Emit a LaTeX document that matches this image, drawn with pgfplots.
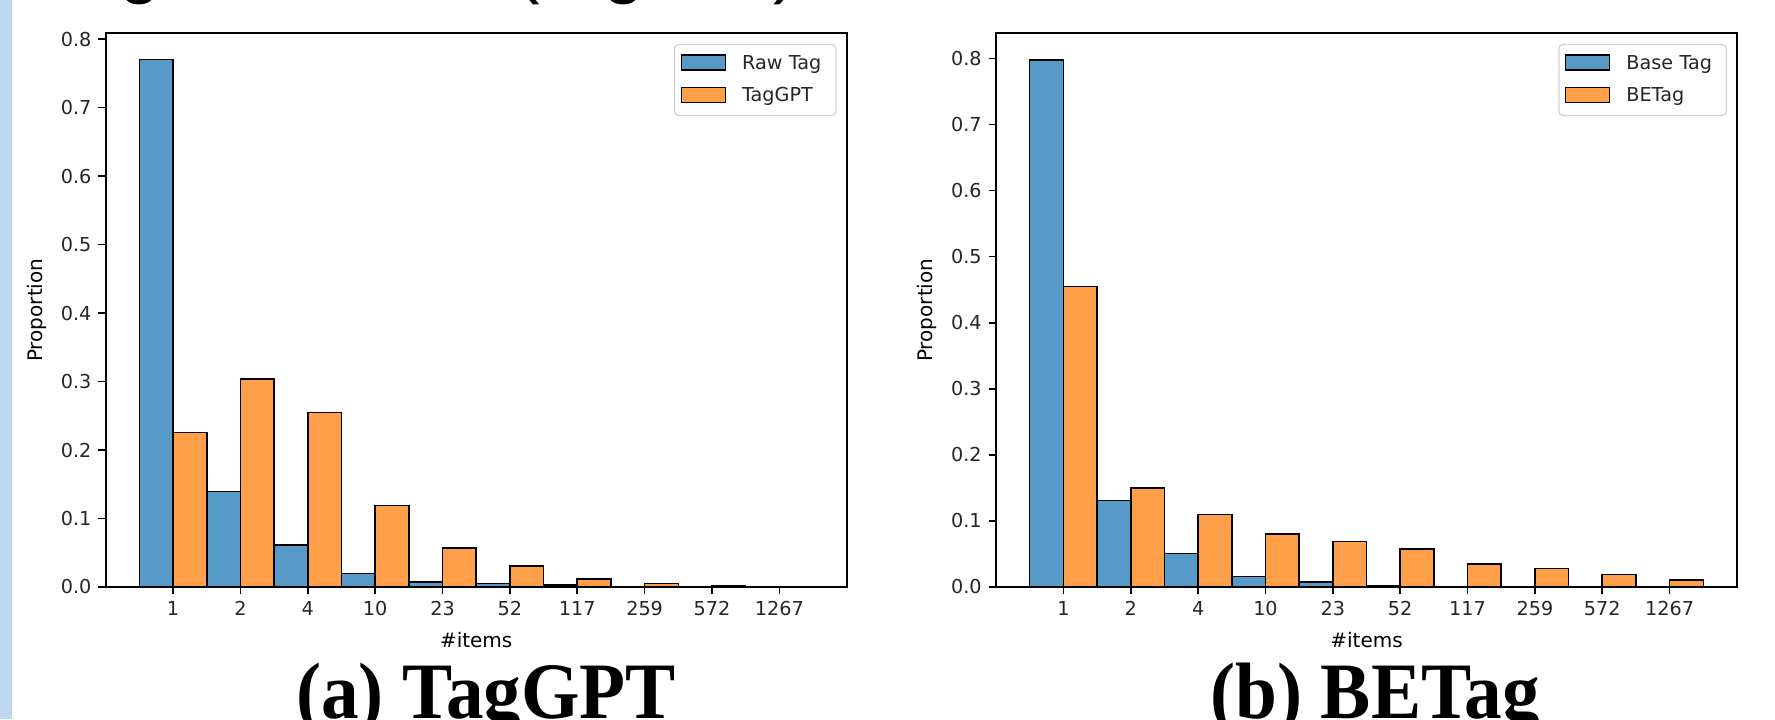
\documentclass[border=0pt]{standalone}
\usepackage{graphicx}
\usepackage{pgfplots}
\usepackage{pgfplotstable}
\pgfplotsset{compat=1.18}
\usepackage{fontspec}
\setmainfont{DejaVu Sans}
\newfontfamily\capfont{Liberation Serif}
\newfontfamily\titlefont{Liberation Sans}
\definecolor{mblue}{RGB}{87,153,199}
\definecolor{morange}{RGB}{255,159,74}
\definecolor{strip}{RGB}{189,215,238}

\pgfplotstableread{
x raw gpt
0 0.770 0.2255
1 0.1396 0.3034
2 0.0615 0.2550
3 0.0200 0.1190
4 0.0075 0.0570
5 0.0050 0.0310
6 0.0025 0.0115
7 0.0005 0.0050
8 0.0002 0.0012
9 0.0001 0.0006
}\tagGPT

\pgfplotstableread{
x base betag
0 0.798 0.455
1 0.131 0.150
2 0.051 0.1095
3 0.0162 0.0805
4 0.0076 0.0690
5 0.0020 0.0574
6 0.0003 0.0350
7 0.0 0.0279
8 0.0 0.0188
9 0.0 0.0102
}\beTag

\pgfplotsset{
  histstyle/.style={
    scale only axis, width=370.5pt, height=276.85pt,
    xmin=-1, xmax=10, ymin=0,
    xtick={0,...,9},
    xticklabels={1,2,4,10,23,52,117,259,572,1267},
    ytick={0,0.1,0.2,0.3,0.4,0.5,0.6,0.7,0.8},
    /pgf/number format/assume math mode=true,
    yticklabel style={/pgf/number format/.cd, fixed, fixed zerofill, precision=1, /tikz/.cd},
    tick align=outside, major tick length=3.65pt, tick pos=left,
    axis line style={black, line width=0.9pt},
    tick style={black, line width=0.8pt},
    tick label style={font=\fontsize{9.6}{11}\selectfont, text=black!85},
    label style={font=\fontsize{9.6}{11}\selectfont, text=black!85},
    every axis x label/.style={at={(axis description cs:0.5,-0.0957)}, anchor=center},
    every axis y label/.style={at={(axis description cs:-0.0926,0.5)}, rotate=90, anchor=center},
    xlabel={\#items}, ylabel={Proportion},
    legend cell align=left,
    legend image code/.code={\draw[#1, sharp corners, line width=0.75pt] (0pt,-2.75pt) rectangle (22pt,4.75pt);},
    legend style={at={(1,1)}, anchor=north east, xshift=-5pt, yshift=-5.3pt,
      draw=black!18, line width=0.6pt, rounded corners=2pt, fill=white,
      inner xsep=3pt, inner ysep=4.8pt, row sep=6.6pt, column sep=8pt,
      font=\fontsize{9.6}{11}\selectfont, text=black!85,
      nodes={inner sep=0pt, text height=7pt, text depth=2pt, align=left}},
  },
  bluebar/.style={ybar, bar width=0.5, bar shift=-0.25, fill=mblue, draw=black, line width=0.8pt},
  orangebar/.style={ybar, bar width=0.5, bar shift=0.25, fill=morange, draw=black, line width=0.8pt},
}

\begin{document}
\begin{tikzpicture}
\useasboundingbox (0,0) rectangle (887.5pt,359.5pt);
\clip (0,0) rectangle (887.5pt,359.5pt);
\fill[white] (0,0) rectangle (887.5pt,359.5pt);
\fill[strip] (0,0) rectangle (6pt,359.5pt);

% cut-off title fragments at the top edge
\begin{scope}[every node/.style={font=\titlefont\fontsize{37}{40}\selectfont, anchor=base, inner sep=0pt}]
\node at (70pt,364.5pt) {g};
\node at (264pt,364.5pt) {(};
\node at (312.25pt,364.5pt) {g};
\node at (393pt,364.5pt) {)};
\end{scope}

\begin{axis}[histstyle, at={(52.85pt,66pt)}, anchor=south west, ymax=0.8085,
  legend style={nodes={text width=44pt}}]
\addplot[bluebar] table[x=x, y=raw] {\tagGPT};
\addlegendentry{Raw Tag}
\addplot[orangebar] table[x=x, y=gpt] {\tagGPT};
\addlegendentry{TagGPT}
\end{axis}

\begin{axis}[histstyle, at={(498pt,66pt)}, anchor=south west, ymax=0.838,
  legend style={nodes={text width=47pt}}]
\addplot[bluebar] table[x=x, y=base] {\beTag};
\addlegendentry{Base Tag}
\addplot[orangebar] table[x=x, y=betag] {\beTag};
\addlegendentry{BETag}
\end{axis}

\node[font=\capfont\bfseries\fontsize{40}{42}\selectfont, anchor=base, inner sep=0pt] at (243pt,0.5pt) {\scalebox{0.94}[1]{(a) TagGPT}};
\node[font=\capfont\bfseries\fontsize{40}{42}\selectfont, anchor=base, inner sep=0pt] at (687.5pt,0.5pt) {\scalebox{0.94}[1]{(b) BETag}};
\end{tikzpicture}
\end{document}
